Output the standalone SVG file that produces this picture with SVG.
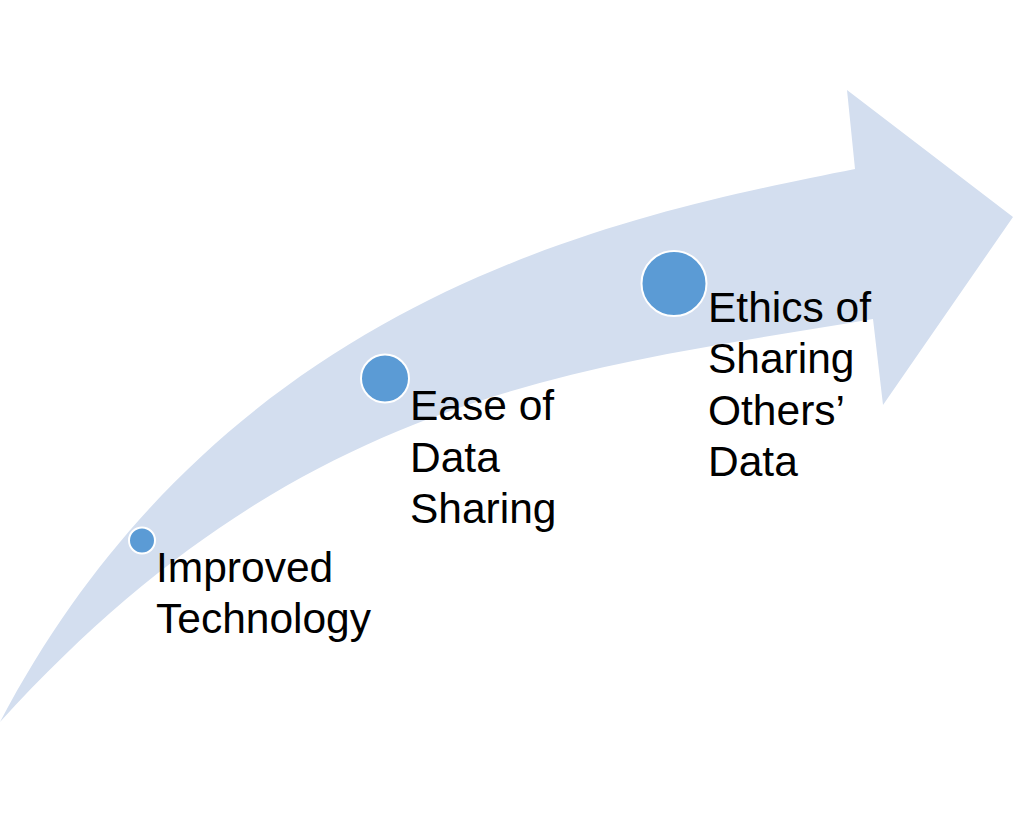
<svg xmlns="http://www.w3.org/2000/svg" width="1014" height="814" viewBox="0 0 1014 814">
<style>
.band{fill:#D3DEEF;stroke:none}
.dot{fill:#5B9BD5;stroke:#FFFFFF;stroke-width:2}
.lbl{font-family:"Liberation Sans",Arial,sans-serif;font-size:42.5px;fill:#000000}
</style>
<rect width="1014" height="814" fill="#FFFFFF"/>
<g id="connectors">
<path id="arrow" class="band" d="M 0 722 C 227 290.7, 628 214.4, 855 169 L 847 90 L 1013 217 L 883 405 L 873 319 C 573 370, 300 392, 0 722 Z"/>
</g>
<g id="node-improved-technology">
<circle class="dot" cx="142" cy="540.5" r="13"/>
<text class="lbl" x="156" y="582">Improved</text>
<text class="lbl" x="156" y="633">Technology</text>
</g>
<g id="node-ease-of-data-sharing">
<circle class="dot" cx="385" cy="378.5" r="24"/>
<text class="lbl" x="410" y="420">Ease of</text>
<text class="lbl" x="410" y="471.5">Data</text>
<text class="lbl" x="410" y="523">Sharing</text>
</g>
<g id="node-ethics">
<circle class="dot" cx="674" cy="283.5" r="32.5"/>
<text class="lbl" x="708" y="321.7">Ethics of</text>
<text class="lbl" x="708" y="373.2">Sharing</text>
<text class="lbl" x="708" y="424.7">Others’</text>
<text class="lbl" x="708" y="476.2">Data</text>
</g>
</svg>
